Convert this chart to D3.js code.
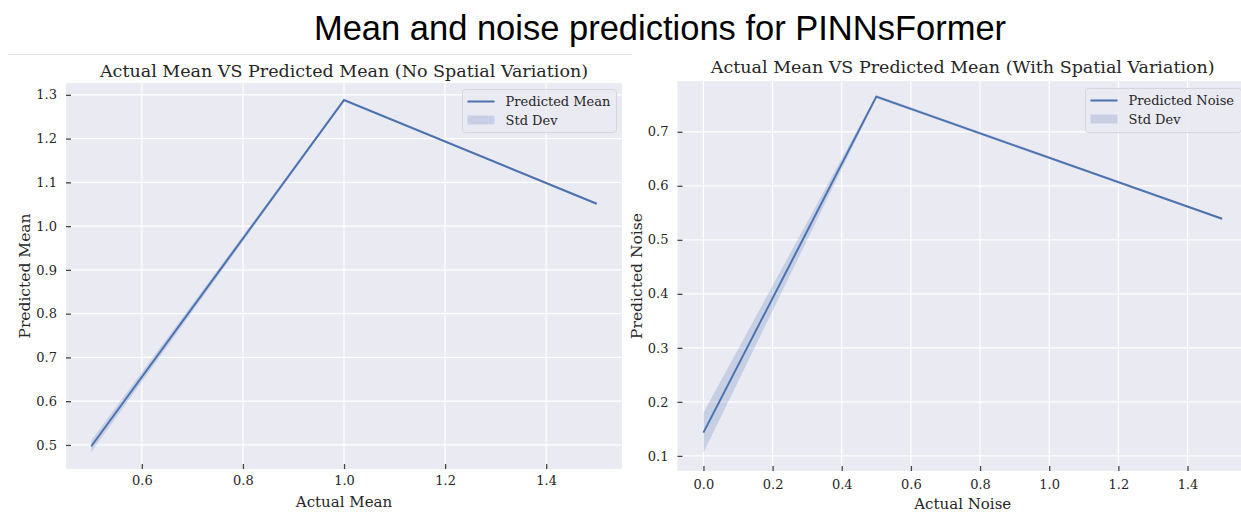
<!DOCTYPE html>
<html>
<head>
<meta charset="utf-8">
<script src="https://cdn.jsdelivr.net/npm/d3@7"></script>
<style>
  html, body { margin: 0; padding: 0; background: #ffffff; }
  svg { display: block; }
</style>
</head>
<body>
<svg id="chart" width="1241" height="516"></svg>
<script>
// ---- data ----
const actualMean = [0.5, 1.0, 1.5];
const predictedMean = [0.497, 1.288, 1.051];
const meanStd = [0.013, 0.002, 0.002];

const actualNoise = [0.0, 0.5, 1.5];
const predictedNoise = [0.143, 0.765, 0.539];
const noiseStd = [0.037, 0.003, 0.002];

const meanXTicks = [0.6, 0.8, 1.0, 1.2, 1.4];
const meanYTicks = [0.5, 0.6, 0.7, 0.8, 0.9, 1.0, 1.1, 1.2, 1.3];
const noiseXTicks = [0.0, 0.2, 0.4, 0.6, 0.8, 1.0, 1.2, 1.4];
const noiseYTicks = [0.1, 0.2, 0.3, 0.4, 0.5, 0.6, 0.7];

const mainTitle = "Mean and noise predictions for PINNsFormer";

// ---- styling ----
const BLUE = "#4c72b0";
const AX_BG = "#eaeaf2";
const SERIF = "'DejaVu Serif', serif";

const svg = d3.select("#chart");

svg.append("text")
  .attr("x", 660).attr("y", 40)
  .attr("text-anchor", "middle")
  .style("font-family", "'Liberation Sans', Arial, sans-serif")
  .style("font-size", "34.5px")
  .style("fill", "#000")
  .text(mainTitle);

// faint frame line above the left panel
svg.append("line")
  .attr("x1", 8).attr("x2", 632).attr("y1", 54.5).attr("y2", 54.5)
  .attr("stroke", "#e4e4e4").attr("stroke-width", 1);

const defs = svg.append("defs");

function drawPanel(cfg) {
  const { id, left, right, top, bottom, xDomain, yDomain, xs, ys, sd,
          xTicks, yTicks, title, xLabel, yLabel, legendLabel,
          titleY, xTickY, xLabelY, yLabelX, legendBox } = cfg;

  const x = d3.scaleLinear().domain(xDomain).range([left, right]);
  const y = d3.scaleLinear().domain(yDomain).range([bottom, top]);

  defs.append("clipPath").attr("id", id)
    .append("rect")
    .attr("x", left).attr("y", top)
    .attr("width", right - left).attr("height", bottom - top);

  const g = svg.append("g");

  g.append("rect")
    .attr("x", left).attr("y", top)
    .attr("width", right - left).attr("height", bottom - top)
    .attr("fill", AX_BG);

  // grid
  g.append("g").selectAll("line").data(xTicks).join("line")
    .attr("x1", d => x(d)).attr("x2", d => x(d))
    .attr("y1", top).attr("y2", bottom)
    .attr("stroke", "#fff").attr("stroke-width", 1.2);
  g.append("g").selectAll("line").data(yTicks).join("line")
    .attr("x1", left).attr("x2", right)
    .attr("y1", d => y(d)).attr("y2", d => y(d))
    .attr("stroke", "#fff").attr("stroke-width", 1.2);

  const plot = g.append("g").attr("clip-path", `url(#${id})`);
  const pts = xs.map((v, i) => ({ x: v, m: ys[i], s: sd[i] }));

  plot.append("path")
    .datum(pts)
    .attr("d", d3.area().x(d => x(d.x)).y0(d => y(d.m - d.s)).y1(d => y(d.m + d.s)))
    .attr("fill", BLUE).attr("fill-opacity", 0.22);

  plot.append("path")
    .datum(pts)
    .attr("d", d3.line().x(d => x(d.x)).y(d => y(d.m)))
    .attr("fill", "none").attr("stroke", BLUE)
    .attr("stroke-width", 2).attr("stroke-linejoin", "miter")
    .attr("stroke-linecap", "butt");

  // axes: short inward ticks, labels outside
  const xAxis = d3.axisBottom(x).tickValues(xTicks).tickFormat(d3.format(".1f"))
    .tickSizeInner(-5).tickSizeOuter(0).tickPadding(0);
  const xa = g.append("g").attr("transform", `translate(0,${bottom})`).call(xAxis);
  xa.select(".domain").remove();
  xa.selectAll(".tick line").attr("stroke", "#444").attr("stroke-width", 1.3);
  xa.selectAll(".tick text")
    .attr("y", xTickY - bottom).attr("dy", null)
    .style("font-family", SERIF).style("font-size", "13px").attr("fill", "#262626");

  const yAxis = d3.axisLeft(y).tickValues(yTicks).tickFormat(d3.format(".1f"))
    .tickSizeInner(-5).tickSizeOuter(0).tickPadding(9);
  const ya = g.append("g").attr("transform", `translate(${left},0)`).call(yAxis);
  ya.select(".domain").remove();
  ya.selectAll(".tick line").attr("stroke", "#444").attr("stroke-width", 1.3);
  ya.selectAll(".tick text")
    .style("font-family", SERIF).style("font-size", "13px").attr("fill", "#262626");

  // titles and labels
  const cx = (left + right) / 2;
  g.append("text")
    .attr("x", cx).attr("y", titleY).attr("text-anchor", "middle")
    .style("font-family", SERIF).style("font-size", "17.5px").attr("fill", "#262626")
    .text(title);
  g.append("text")
    .attr("x", cx).attr("y", xLabelY).attr("text-anchor", "middle")
    .style("font-family", SERIF).style("font-size", "15px").attr("fill", "#262626")
    .text(xLabel);
  g.append("text")
    .attr("transform", `translate(${yLabelX},${(top + bottom) / 2}) rotate(-90)`)
    .attr("text-anchor", "middle")
    .style("font-family", SERIF).style("font-size", "15.5px").attr("fill", "#262626")
    .text(yLabel);

  // legend
  const lg = g.append("g");
  lg.append("rect")
    .attr("x", legendBox.x).attr("y", legendBox.y)
    .attr("width", legendBox.w).attr("height", legendBox.h)
    .attr("rx", 3)
    .attr("fill", AX_BG).attr("fill-opacity", 0.8)
    .attr("stroke", "#d6d6de").attr("stroke-width", 1);
  const lx = legendBox.x + 5;
  lg.append("line")
    .attr("x1", lx).attr("x2", lx + 27)
    .attr("y1", legendBox.y + 12).attr("y2", legendBox.y + 12)
    .attr("stroke", BLUE).attr("stroke-width", 2);
  lg.append("rect")
    .attr("x", lx).attr("y", legendBox.y + 26)
    .attr("width", 27).attr("height", 9)
    .attr("fill", BLUE).attr("fill-opacity", 0.22);
  lg.append("text")
    .attr("x", lx + 38).attr("y", legendBox.y + 16.5)
    .style("font-family", SERIF).style("font-size", "13px").attr("fill", "#262626")
    .text(legendLabel);
  lg.append("text")
    .attr("x", lx + 38).attr("y", legendBox.y + 35)
    .style("font-family", SERIF).style("font-size", "13px").attr("fill", "#262626")
    .text("Std Dev");
}

drawPanel({
  id: "clipMean",
  left: 66, right: 622, top: 83, bottom: 469,
  xDomain: [0.45, 1.55], yDomain: [0.445, 1.327],
  xs: actualMean, ys: predictedMean, sd: meanStd,
  xTicks: meanXTicks, yTicks: meanYTicks,
  title: "Actual Mean VS Predicted Mean (No Spatial Variation)",
  xLabel: "Actual Mean", yLabel: "Predicted Mean",
  legendLabel: "Predicted Mean",
  titleY: 77, xTickY: 485, xLabelY: 507, yLabelX: 30,
  legendBox: { x: 462.5, y: 89.5, w: 154, h: 43 }
});

drawPanel({
  id: "clipNoise",
  left: 677.5, right: 1248, top: 81, bottom: 471,
  xDomain: [-0.075, 1.575], yDomain: [0.072, 0.794],
  xs: actualNoise, ys: predictedNoise, sd: noiseStd,
  xTicks: noiseXTicks, yTicks: noiseYTicks,
  title: "Actual Mean VS Predicted Mean (With Spatial Variation)",
  xLabel: "Actual Noise", yLabel: "Predicted Noise",
  legendLabel: "Predicted Noise",
  titleY: 73, xTickY: 489, xLabelY: 509, yLabelX: 642,
  legendBox: { x: 1085.5, y: 88.5, w: 156, h: 44 }
});
</script>
</body>
</html>
